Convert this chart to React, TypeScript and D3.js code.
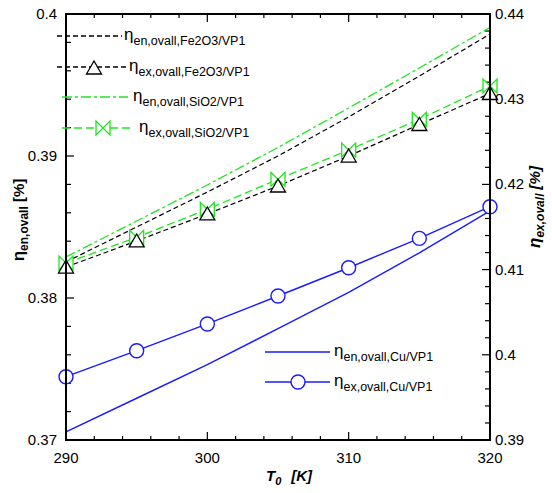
import React from "react";
import * as d3 from "d3";

const T = [290, 295, 300, 305, 310, 315, 320];
const enFe2O3 = [0.38254, 0.385, 0.38746, 0.39, 0.39275, 0.39563, 0.39859];
const exFe2O3 = [0.4103, 0.41336, 0.41653, 0.41981, 0.42333, 0.42703, 0.43067];
const enSiO2 = [0.38289, 0.38542, 0.38796, 0.3906, 0.39338, 0.3962, 0.39905];
const exSiO2 = [0.41077, 0.41379, 0.41708, 0.4206, 0.42404, 0.42764, 0.43155];
const enCu = [0.37058, 0.37294, 0.37531, 0.37784, 0.38039, 0.38318, 0.38613];
const exCu = [0.39743, 0.40048, 0.40362, 0.4069, 0.41022, 0.41367, 0.41738];

const xTicks = [290, 300, 310, 320];
const yLTicks = [0.37, 0.38, 0.39, 0.4];
const yRTicks = [0.39, 0.4, 0.41, 0.42, 0.43, 0.44];

const FONT = "Liberation Sans, Arial, sans-serif";
const GREEN = "#1ee61e";
const BLUE = "#1a1aff";

const L = 66, R = 490, TOP = 14, B = 440;

export default function App() {
  const x = d3.scaleLinear().domain([290, 320]).range([L, R]);
  const yL = d3.scaleLinear().domain([0.37, 0.4]).range([B, TOP]);
  const yR = d3.scaleLinear().domain([0.39, 0.44]).range([B, TOP]);

  const lineL = d3.line<number>().x((_, i) => x(T[i])).y((d) => yL(d));
  const lineR = d3.line<number>().x((_, i) => x(T[i])).y((d) => yR(d));

  const tri = (cx: number, cy: number) =>
    `M${cx - 7.5},${cy + 6} L${cx + 7.5},${cy + 6} L${cx},${cy - 7} Z`;
  const bow = (cx: number, cy: number) =>
    `M${cx - 7},${cy - 7} L${cx - 7},${cy + 7} L${cx + 7},${cy - 7} L${cx + 7},${cy + 7} Z`;

  const xMinor = d3.range(290, 320.001, 2);
  const yLMinor = d3.range(0, 16).map((i) => 0.37 + i * 0.002);
  const yRMinor = d3.range(0, 26).map((i) => 0.39 + i * 0.002);
  const isMajor = (v: number, step: number) => Math.abs(v / step - Math.round(v / step)) < 1e-6;

  const legendItem = (
    y: number,
    x1: number,
    x2: number,
    stroke: string,
    dash: string | undefined,
    marker: React.ReactNode,
    tx: number,
    sub: string
  ) => (
    <g>
      <line x1={x1} x2={x2} y1={y} y2={y} stroke={stroke} strokeWidth={1.3} strokeDasharray={dash} />
      {marker}
      <text x={tx} y={y + 4} fontFamily={FONT} fontSize={17}>
        η
        <tspan fontSize={12.5} dy={5}>{sub}</tspan>
      </text>
    </g>
  );

  return (
    <svg width={552} height={493} style={{ position: "absolute", left: 0, top: 0, background: "#fff" }}>
      <rect x={0} y={0} width={552} height={493} fill="#fff" />
      {/* ticks */}
      {xMinor.map((v) => {
        const len = isMajor(v, 10) ? 8 : 4;
        return (
          <g key={"xt" + v}>
            <line x1={x(v)} x2={x(v)} y1={B} y2={B - len} stroke="#000" strokeWidth={1.2} />
            <line x1={x(v)} x2={x(v)} y1={TOP} y2={TOP + len} stroke="#000" strokeWidth={1.2} />
          </g>
        );
      })}
      {yLMinor.map((v) => (
        <line key={"yl" + v} x1={L} x2={L + (isMajor(v, 0.01) ? 8 : 5)} y1={yL(v)} y2={yL(v)} stroke="#000" strokeWidth={1.2} />
      ))}
      {yRMinor.map((v) => (
        <line key={"yr" + v} x1={R} x2={R - (isMajor(v, 0.01) ? 8 : 5)} y1={yR(v)} y2={yR(v)} stroke="#000" strokeWidth={1.2} />
      ))}

      {/* lines */}
      <path d={lineL(enFe2O3)!} fill="none" stroke="#000" strokeWidth={1.2} strokeDasharray="5,3" />
      <path d={lineL(enSiO2)!} fill="none" stroke={GREEN} strokeWidth={1.3} strokeDasharray="10,3,3,3" />
      <path d={lineR(exFe2O3)!} fill="none" stroke="#000" strokeWidth={1.2} strokeDasharray="5,3" />
      <path d={lineR(exSiO2)!} fill="none" stroke={GREEN} strokeWidth={1.3} strokeDasharray="8,4" />
      <path d={lineL(enCu)!} fill="none" stroke={BLUE} strokeWidth={1.4} />
      <path d={lineR(exCu)!} fill="none" stroke={BLUE} strokeWidth={1.4} />

      {/* markers */}
      {exSiO2.map((v, i) => (
        <path key={"bw" + i} d={bow(x(T[i]), yR(v))} fill="#fff" stroke={GREEN} strokeWidth={1.3} />
      ))}
      {exFe2O3.map((v, i) => (
        <path key={"tr" + i} d={tri(x(T[i]), yR(v))} fill="#fff" stroke="#000" strokeWidth={1.3} />
      ))}
      {exCu.map((v, i) => (
        <circle key={"ci" + i} cx={x(T[i])} cy={yR(v)} r={7} fill="#fff" stroke={BLUE} strokeWidth={1.4} />
      ))}

      {/* frame */}
      <rect x={L} y={TOP} width={R - L} height={B - TOP} fill="none" stroke="#000" strokeWidth={2} />

      {/* tick labels */}
      {xTicks.map((v) => (
        <text key={"xl" + v} x={x(v)} y={463} textAnchor="middle" fontFamily={FONT} fontSize={15}>
          {v}
        </text>
      ))}
      {yLTicks.map((v) => (
        <text key={"yll" + v} x={57} y={yL(v) + 5} textAnchor="end" fontFamily={FONT} fontSize={15}>
          {d3.format("")(+v.toFixed(2))}
        </text>
      ))}
      {yRTicks.map((v) => (
        <text key={"yrl" + v} x={495} y={yR(v) + 5} textAnchor="start" fontFamily={FONT} fontSize={15}>
          {d3.format("")(+v.toFixed(2))}
        </text>
      ))}

      {/* axis titles */}
      <text x={266} y={481} fontFamily={FONT} fontSize={15} fontWeight="bold" fontStyle="italic">
        T<tspan fontSize={11} dy={4}>0</tspan>
        <tspan dy={-4} dx={10}>[K]</tspan>
      </text>
      <text transform="translate(24,220) rotate(-90)" textAnchor="middle" fontFamily={FONT} fontSize={17} fontWeight="bold">
        η<tspan fontSize={12} dy={4}>en,ovall</tspan>
        <tspan dy={-4} fontSize={15}> [%]</tspan>
      </text>
      <text transform="translate(540,207) rotate(-90)" textAnchor="middle" fontFamily={FONT} fontSize={17} fontWeight="bold" fontStyle="italic">
        η<tspan fontSize={12} dy={4}>ex,ovall</tspan>
        <tspan dy={-4} fontSize={15}> [%]</tspan>
      </text>

      {/* legend */}
      {legendItem(36, 57, 122, "#000", "5,3", null, 124, "en,ovall,Fe2O3/VP1")}
      {legendItem(67, 57, 127, "#000", "5,3",
        <path d={tri(94, 68)} fill="#fff" stroke="#000" strokeWidth={1.3} />, 129, "ex,ovall,Fe2O3/VP1")}
      {legendItem(97, 62, 128, GREEN, "10,3,3,3", null, 133, "en,ovall,SiO2/VP1")}
      {legendItem(128, 62, 133, GREEN, "8,4",
        <path d={bow(103, 128)} fill="#fff" stroke={GREEN} strokeWidth={1.3} />, 139, "ex,ovall,SiO2/VP1")}
      {legendItem(352, 265, 330, BLUE, undefined, null, 334, "en,ovall,Cu/VP1")}
      {legendItem(382, 265, 330, BLUE, undefined,
        <circle cx={298} cy={382} r={7} fill="#fff" stroke={BLUE} strokeWidth={1.4} />, 334, "ex,ovall,Cu/VP1")}
    </svg>
  );
}
